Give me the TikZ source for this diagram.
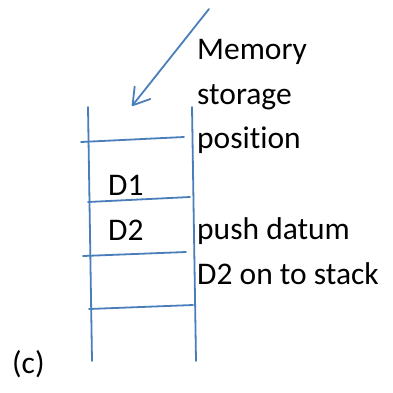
\documentclass[tikz,border=0pt]{standalone}
\usepackage{fontspec}
\setmainfont{Carlito}[Ligatures=NoCommon]
\usetikzlibrary{arrows.meta}
\definecolor{lineblue}{HTML}{4A7EBB}
\begin{document}
\begin{tikzpicture}[x=1pt,y=-1pt,
  wire/.style={draw=lineblue,line width=1.8pt,line cap=round},
  label/.style={inner sep=0pt,anchor=base west,font=\fontsize{31.5}{38}\selectfont}]
\useasboundingbox (0,0) rectangle (393,392);
% stack walls
\coordinate (lt) at (88,107); \coordinate (lb) at (92,361);
\coordinate (rt) at (192,107); \coordinate (rb) at (196,361);
\draw[wire] (lt) -- (lb);
\draw[wire] (rt) -- (rb);
% slot dividers
\coordinate (h1a) at (81,142); \coordinate (h1b) at (184,137);
\coordinate (h2a) at (88,202); \coordinate (h2b) at (190,197);
\coordinate (h3a) at (83,256); \coordinate (h3b) at (186,252);
\coordinate (h4a) at (89,309); \coordinate (h4b) at (193,305);
\draw[wire] (h1a) -- (h1b);
\draw[wire] (h2a) -- (h2b);
\draw[wire] (h3a) -- (h3b);
\draw[wire] (h4a) -- (h4b);
% pointer to the storage position
\coordinate (ptail) at (209,9); \coordinate (ptip) at (132,106);
\draw[wire,line join=round,-{Straight Barb[length=16pt,width=20pt,round]}] (ptail) -- (ptip);
% texts
\node[label] (mem) at (197,59) {Memory};
\node[label] (sto) at (197,104) {storage};
\node[label] (pos) at (197,148) {position};
\node[label] (push) at (197,239) {push datum};
\node[label] (onto) at (197,284) {D2 on to stack};
\node[label] (d1) at (108,195) {D1};
\node[label] (d2) at (108,240) {D2};
\node[label] (c) at (12,373) {(c)};
\end{tikzpicture}
\end{document}
